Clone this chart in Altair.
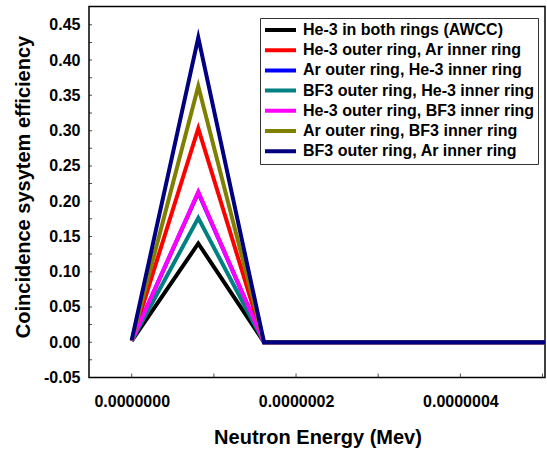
import altair as alt
import pandas as pd

# Data
energy = [0.0, 8.1e-8, 1.61e-7, 1.0e-6]
series = [
    "He-3 in both rings (AWCC)",
    "He-3 outer ring, Ar inner ring",
    "Ar outer ring, He-3 inner ring",
    "BF3 outer ring, He-3 inner ring",
    "He-3 outer ring, BF3 inner ring",
    "Ar outer ring, BF3 inner ring",
    "BF3 outer ring, Ar inner ring",
]
eff_he3_both = [0.002, 0.140, 0.0, 0.0]
eff_he3_ar = [0.002, 0.303, 0.0, 0.0]
eff_ar_he3 = [0.002, 0.212, 0.0, 0.0]
eff_bf3_he3 = [0.002, 0.176, 0.0, 0.0]
eff_he3_bf3 = [0.002, 0.213, 0.0, 0.0]
eff_ar_bf3 = [0.002, 0.363, 0.0, 0.0]
eff_bf3_ar = [0.003, 0.432, 0.0, 0.0]
colors = ["#000000", "#FF0000", "#0000FF", "#008080", "#FF00FF", "#808000", "#000080"]

y_tick_labels = [-0.05, 0.0, 0.05, 0.10, 0.15, 0.20, 0.25, 0.30, 0.35, 0.40, 0.45]
y_minor = [-0.05 + 0.025 * i for i in range(21)]
x_tick_labels = [0.0, 2e-7, 4e-7]
x_minor = [0.0, 1e-7, 2e-7, 3e-7, 4e-7, 5e-7]

all_vals = [eff_he3_both, eff_he3_ar, eff_ar_he3, eff_bf3_he3, eff_he3_bf3, eff_ar_bf3, eff_bf3_ar]
rows = []
for s, vals in zip(series, all_vals):
    for e, v in zip(energy, vals):
        rows.append({"series": s, "energy": e, "eff": v})
df = pd.DataFrame(rows)

FONT = "Liberation Sans"
xscale = alt.Scale(domain=[-5.2e-8, 5.03e-7], nice=False, zero=False)
yscale = alt.Scale(domain=[-0.05, 0.476], nice=False, zero=False)

xaxis = alt.Axis(values=x_tick_labels, format=".7f", ticks=False, domain=False, grid=False,
                 labelFont=FONT, labelFontSize=16, labelFontWeight="bold", labelColor="black",
                 labelPadding=29, labelBaseline="alphabetic", labelFlush=False,
                 title="Neutron Energy (Mev)", titleFont=FONT, titleFontSize=20,
                 titleFontWeight="bold", titleColor="black", titleX=228.5, titleY=66,
                 titleBaseline="alphabetic", titleAlign="center")
yaxis = alt.Axis(values=y_tick_labels,
                 labelExpr="replace(format(datum.value, '.2f'), '\u2212', '-')",
                 ticks=False, domain=False, grid=False,
                 labelFont=FONT, labelFontSize=16, labelFontWeight="bold", labelColor="black",
                 labelPadding=9, labelFlush=False,
                 title="Coincidence sysytem efficiency", titleFont=FONT, titleFontSize=20,
                 titleFontWeight="bold", titleColor="black", titleX=-59.5, titleY=180,
                 titleAngle=270, titleBaseline="alphabetic", titleAlign="center")

lines = alt.Chart(df).mark_line(strokeWidth=4, strokeJoin="miter", strokeMiterLimit=10, clip=True).encode(
    x=alt.X("energy:Q", scale=xscale, axis=xaxis),
    y=alt.Y("eff:Q", scale=yscale, axis=yaxis),
    color=alt.Color("series:N", scale=alt.Scale(domain=series, range=colors),
                    legend=alt.Legend(orient="none", legendX=171, legendY=11.5, title=None,
                                      symbolType="stroke", symbolStrokeWidth=4, symbolSize=961,
                                      labelFont=FONT, labelFontSize=16, labelFontWeight="bold",
                                      labelColor="black", labelLimit=400, labelOffset=5,
                                      padding=3, strokeColor="#333333", fillColor="white",
                                      rowPadding=2.2, clipHeight=18)),
    detail="series:N",
)

ytick_df = pd.DataFrame({"v": y_minor})
yticks = alt.Chart(ytick_df).mark_tick(orient="horizontal", size=6, thickness=1, color="black", clip=True).encode(
    y=alt.Y("v:Q", scale=yscale, axis=yaxis),
    x=alt.value(0),
)
xtick_df = pd.DataFrame({"v": x_minor})
xticks = alt.Chart(xtick_df).mark_tick(orient="vertical", size=8, thickness=1, color="black", clip=True).encode(
    x=alt.X("v:Q", scale=xscale, axis=xaxis),
    y=alt.value(371),
)

chart = alt.layer(yticks, xticks, lines).properties(
    width=456, height=371,
    autosize=alt.AutoSizeParams(type="none"),
    padding={"left": 89, "top": 6.5, "right": 2, "bottom": 73},
    background="white",
).configure_view(stroke="black", strokeWidth=1.5)

chart.save("out.html", embed_options={"renderer": "svg", "actions": False})
